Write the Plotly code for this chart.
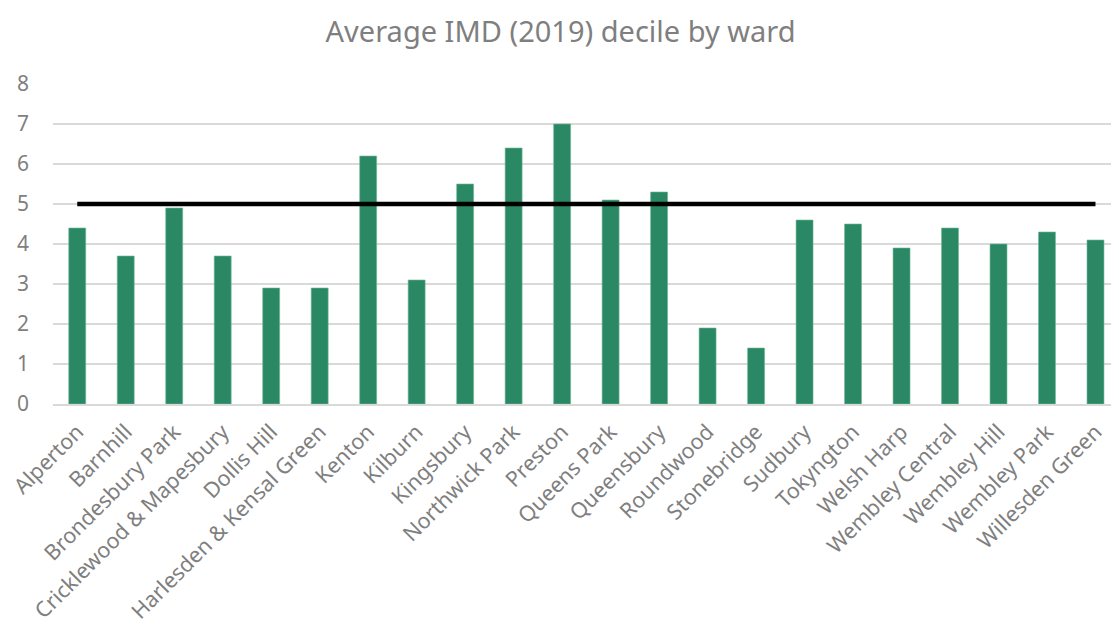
import plotly.graph_objects as go

wards = ["Alperton", "Barnhill", "Brondesbury Park", "Cricklewood & Mapesbury", "Dollis Hill",
         "Harlesden & Kensal Green", "Kenton", "Kilburn", "Kingsbury", "Northwick Park", "Preston",
         "Queens Park", "Queensbury", "Roundwood", "Stonebridge", "Sudbury", "Tokyngton",
         "Welsh Harp", "Wembley Central", "Wembley Hill", "Wembley Park", "Willesden Green"]
imd_decile = [4.4, 3.7, 4.9, 3.7, 2.9, 2.9, 6.2, 3.1, 5.5, 6.4, 7.0, 5.1, 5.3, 1.9, 1.4,
              4.6, 4.5, 3.9, 4.4, 4.0, 4.3, 4.1]
benchmark = [5] * len(wards)

fig = go.Figure()
fig.add_trace(go.Bar(x=wards, y=imd_decile,
                     marker=dict(color="#2a8964", line=dict(color="#6fb898", width=0.6)),
                     name="Average IMD decile"))
fig.add_trace(go.Scatter(x=wards, y=benchmark, mode="lines",
                         line=dict(color="#000000", width=4.5),
                         name="Benchmark"))

font_family = "Noto Sans, Open Sans, sans-serif"
fig.update_layout(
    width=1103, height=619,
    paper_bgcolor="white", plot_bgcolor="white",
    showlegend=False,
    bargap=0.65,
    margin=dict(l=45, r=0, t=76, b=223, autoexpand=False),
    title=dict(text="Average IMD (2019) decile by ward", x=0.501, xanchor="center",
               y=1 - 24 / 619, yanchor="middle",
               font=dict(family=font_family, size=29, color="#7f7f7f")),
    font=dict(family=font_family, color="#7f7f7f"),
)
fig.update_xaxes(tickangle=-45, tickfont=dict(size=21.5, color="#7f7f7f"), showgrid=False,
                 showline=True, linecolor="#d9d9d9", linewidth=1.5, ticks="",
                 range=[-0.5, 21.32], automargin=False, ticklabelstandoff=5)
fig.update_yaxes(range=[0, 8], dtick=1, tickfont=dict(size=21, color="#7f7f7f"),
                 showgrid=True, gridcolor="#d9d9d9", gridwidth=1.5, zeroline=False, ticks="",
                 ticklabelstandoff=23, automargin=False)
fig.write_html("out.html")
